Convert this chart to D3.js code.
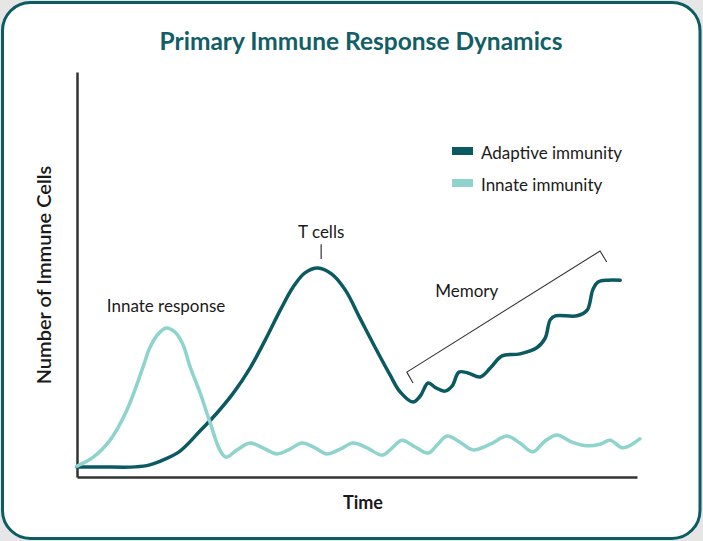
<!DOCTYPE html>
<html>
<head>
<meta charset="utf-8">
<script src="https://cdn.jsdelivr.net/npm/d3@7"></script>
<style>
  html, body { margin: 0; padding: 0; background: #e6e6e6; }
  svg { display: block; }
  text { font-family: Lato, "Open Sans", sans-serif; }
</style>
</head>
<body>
<svg id="chart" width="703" height="541"></svg>
<script>
// ---- data ----
const titleText = "Primary Immune Response Dynamics";
const xLabel = "Time";
const yLabel = "Number of Immune Cells";
const seriesNames = ["Adaptive immunity", "Innate immunity"];

const adaptiveTime  = [0, 4.1, 10.4, 13.0, 15.7, 18.4, 22.0, 25.0, 27.9, 30.9, 33.6, 36.3, 38.6, 40.7, 43.0, 45.5, 47.9, 50.5, 53.2, 55.9, 57.7, 60.0, 61.3, 62.7, 64.1, 65.7, 67.0, 68.2, 69.8, 72.0, 73.8, 75.9, 79.1, 82.1, 83.6, 84.5, 85.4, 89.3, 91.1, 92.1, 93.0, 94.8, 97.0];
const adaptiveLevel = [2.5, 2.5, 2.5, 3.0, 4.4, 6.4, 11.4, 15.8, 20.7, 26.9, 33.8, 41.2, 46.9, 50.4, 51.6, 50.1, 46.2, 39.3, 32.1, 25.2, 21.0, 18.5, 20.0, 23.2, 22.0, 21.2, 22.5, 25.9, 25.7, 24.7, 26.9, 29.9, 30.4, 31.9, 34.3, 38.8, 39.8, 39.8, 41.2, 46.2, 48.1, 48.6, 48.6];

const innateTime  = [0, 2.9, 5.9, 8.9, 11.8, 13.0, 14.5, 15.9, 17.3, 18.8, 20.2, 22.0, 23.8, 25.5, 26.6, 28.6, 30.9, 33.2, 35.7, 38.0, 40.2, 42.5, 44.6, 47.0, 49.3, 51.8, 54.5, 56.3, 58.0, 60.4, 62.7, 64.3, 66.1, 68.4, 70.7, 73.8, 76.8, 79.1, 81.4, 83.6, 85.7, 88.4, 91.1, 93.4, 95.2, 97.5, 100.5];
const innateLevel = [2.7, 4.9, 9.1, 16.5, 27.2, 31.9, 35.3, 36.8, 36.0, 33.1, 27.2, 20.7, 13.3, 6.7, 4.9, 6.7, 8.4, 7.2, 5.7, 6.9, 8.4, 7.2, 5.7, 6.9, 8.4, 7.2, 5.4, 7.2, 9.1, 7.4, 5.9, 7.9, 10.1, 8.6, 6.7, 8.1, 10.1, 8.4, 6.2, 8.9, 10.4, 8.6, 7.7, 8.1, 9.1, 7.2, 9.4];

// annotations (in data units)
const annotationLabels = ["Innate response", "T cells", "Memory"];
const annotationTime   = [15.9, 43.6, 69.6];
const annotationLevel  = [40.7, 59.0, 44.4];
const tCellTick   = {t: 43.6, from: 57.5, to: 53.8};
const memoryBracket = [[60.0, 23.2], [58.9, 25.9], [93.4, 55.8], [94.6, 53.1]];

// ---- drawing ----
const W = 703, H = 541;
const colAdaptive = "#0b5a61", colInnate = "#8ed3cc", colBorder = "#0d5c63";
const svg = d3.select("#chart");

svg.append("rect").attr("x", 2.5).attr("y", 2.5).attr("width", W - 5.5).attr("height", H - 5)
  .attr("rx", 28).attr("ry", 28).attr("fill", "#fff").attr("stroke", colBorder).attr("stroke-width", 3);

const x = d3.scaleLinear().domain([0, 100]).range([77, 637]);
const y = d3.scaleLinear().domain([0, 100]).range([477, 72]);

// axes (no ticks)
svg.append("g").attr("transform", `translate(0,${y(0)})`)
  .call(d3.axisBottom(x).tickValues([]).tickSizeOuter(0))
  .call(g => g.select(".domain").attr("stroke", "#333").attr("stroke-width", 2.5));
svg.append("g").attr("transform", `translate(${x(0)},0)`)
  .call(d3.axisLeft(y).tickValues([]).tickSizeOuter(0))
  .call(g => g.select(".domain").attr("stroke", "#333").attr("stroke-width", 2.5));

const line = d3.line().x(d => x(d[0])).y(d => y(d[1])).curve(d3.curveCatmullRom.alpha(0.5));
const adaptive = adaptiveTime.map((t, i) => [t, adaptiveLevel[i]]);
const innate = innateTime.map((t, i) => [t, innateLevel[i]]);

svg.append("path").datum(adaptive).attr("d", line).attr("fill", "none")
  .attr("stroke", colAdaptive).attr("stroke-width", 3.5).attr("stroke-linecap", "round").attr("stroke-linejoin", "round");
svg.append("path").datum(innate).attr("d", line).attr("fill", "none")
  .attr("stroke", colInnate).attr("stroke-width", 3.5).attr("stroke-linecap", "round").attr("stroke-linejoin", "round");

// title
svg.append("text").attr("x", 361).attr("y", 50).attr("text-anchor", "middle")
  .attr("font-size", 24.5).attr("font-weight", 700).attr("fill", "#135e66").text(titleText);

// axis labels
svg.append("text").attr("x", 363).attr("y", 509).attr("text-anchor", "middle")
  .attr("font-size", 18).attr("font-weight", 700).attr("fill", "#1a1a1a").text(xLabel);
svg.append("text").attr("transform", "translate(51,275) rotate(-90)").attr("text-anchor", "middle")
  .attr("font-size", 20).attr("font-weight", 600).attr("fill", "#1a1a1a").text(yLabel);

// annotations
annotationLabels.forEach((lab, i) => {
  svg.append("text").attr("x", x(annotationTime[i])).attr("y", y(annotationLevel[i]))
    .attr("text-anchor", "middle").attr("font-size", 17).attr("fill", "#1a1a1a").text(lab);
});
svg.append("line").attr("x1", x(tCellTick.t)).attr("x2", x(tCellTick.t))
  .attr("y1", y(tCellTick.from)).attr("y2", y(tCellTick.to)).attr("stroke", "#333").attr("stroke-width", 1.2);
svg.append("path").attr("d", d3.line().x(d => x(d[0])).y(d => y(d[1]))(memoryBracket))
  .attr("fill", "none").attr("stroke", "#333").attr("stroke-width", 1.1);

// legend
const legend = svg.append("g");
[colAdaptive, colInnate].forEach((c, i) => {
  legend.append("rect").attr("x", 452).attr("y", 147 + i * 32).attr("width", 21).attr("height", 8).attr("fill", c);
  legend.append("text").attr("x", 481).attr("y", 159 + i * 32).attr("font-size", 17).attr("fill", "#1a1a1a").text(seriesNames[i]);
});
</script>
</body>
</html>
